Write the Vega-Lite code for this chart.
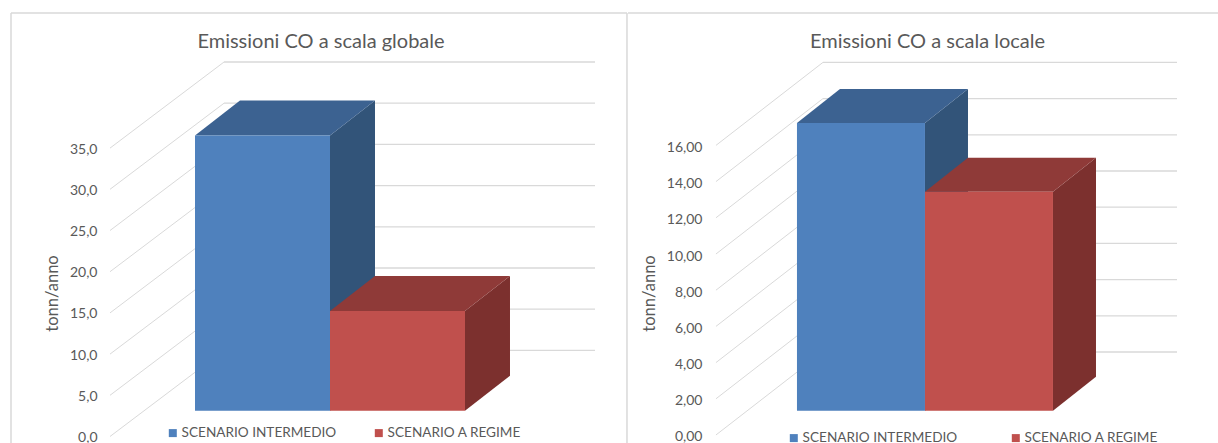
{
  "$schema": "https://vega.github.io/schema/vega-lite/v6.json",
  "padding": {"left": 10, "top": 12, "right": 0, "bottom": 0},
  "autosize": {"type": "pad"},
  "spacing": -3,
  "background": "white",
  "resolve": {"scale": {"color": "independent"}, "legend": {"color": "independent"}},
  "config": {
    "view": {"stroke": null},
    "axisX": {"disable": true},
    "font": "Lato",
    "title": {"font": "Lato", "fontSize": 20, "fontWeight": "normal", "color": "#595959"},
    "legend": {"labelFont": "Lato", "labelFontSize": 13.6, "labelColor": "#595959", "symbolType": "square", "symbolStrokeWidth": 0, "symbolSize": 64, "labelOffset": 2, "orient": "none", "direction": "horizontal", "columns": 2, "title": null, "padding": 0}
  },
  "hconcat": [
    {
      "width": 616,
      "height": 430,
      "title": {"text": "Emissioni CO a scala globale", "offset": -40, "dx": 2},
      "layer": [
        {
          "data": {"values": [{"tick": 0}, {"tick": 5}, {"tick": 10}, {"tick": 15}, {"tick": 20}, {"tick": 25}, {"tick": 30}, {"tick": 35}]},
          "transform": [{"calculate": "datum.tick + 10.45", "as": "back"}],
          "mark": {"type": "rule", "color": "#d9d9d9", "strokeWidth": 1},
          "encoding": {
            "x": {"datum": -0.6296, "scale": {"domain": [-1.363, 3.2], "nice": false, "zero": false}},
            "x2": {"datum": 0.2148},
            "y": {"field": "tick", "type": "quantitative", "scale": {"domain": [-0.789, 51.4], "nice": false, "zero": false},
              "axis": {"values": [0, 5, 10, 15, 20, 25, 30, 35], "grid": false, "domain": false, "ticks": false, "offset": -86, "labelPadding": 0, "labelOffset": 1,
                "labelExpr": "replace(format(datum.value, '.1f'), '.', ',')",
                "labelFont": "Lato", "labelFontSize": 14, "labelColor": "#595959",
                "title": "tonn/anno", "titleFont": "Lato", "titleFontSize": 16.5, "titleFontWeight": "normal", "titleColor": "#595959", "titleX": -37, "titleY": 280}},
            "y2": {"field": "back"}
          }
        },
        {
          "data": {"values": [{"tick": 0}, {"tick": 5}, {"tick": 10}, {"tick": 15}, {"tick": 20}, {"tick": 25}, {"tick": 30}, {"tick": 35}]},
          "transform": [{"calculate": "datum.tick + 10.45", "as": "back"}],
          "mark": {"type": "rule", "color": "#d9d9d9", "strokeWidth": 1.3},
          "encoding": {
            "x": {"datum": 0.2148},
            "x2": {"datum": 2.963},
            "y": {"field": "back", "type": "quantitative"}
          }
        },
        {
          "data": {"values": [{"edge": "border"}]},
          "mark": {"type": "rule", "color": "#d9d9d9", "strokeWidth": 1.5},
          "encoding": {"x": {"datum": -1.363}}
        },
        {
          "data": {"values": [{"edge": "border"}]},
          "mark": {"type": "rule", "color": "#d9d9d9", "strokeWidth": 1.5},
          "encoding": {"y": {"datum": 51.4}}
        },
        {
          "data": {"values": [{"scenario": "SCENARIO INTERMEDIO", "value": 33.4}, {"scenario": "SCENARIO A REGIME", "value": 12.1}]},
          "transform": [
            {"calculate": "datum.scenario === 'SCENARIO INTERMEDIO' ? 0 : 1", "as": "x0"},
            {"calculate": "datum.x0 + 1", "as": "x1"},
            {"calculate": "3.12", "as": "base"},
            {"calculate": "datum.base + datum.value", "as": "top"},
            {"calculate": "[0, 1]", "as": "t"},
            {"flatten": ["t"]},
            {"calculate": "datum.x1 + datum.t * 0.3333", "as": "sideX"},
            {"calculate": "datum.base + datum.t * 4.25", "as": "sideLow"},
            {"calculate": "datum.top + datum.t * 4.25", "as": "sideHigh"}
          ],
          "mark": {"type": "area", "orient": "vertical"},
          "encoding": {
            "x": {"field": "sideX", "type": "quantitative"},
            "y": {"field": "sideLow", "type": "quantitative", "stack": null},
            "y2": {"field": "sideHigh"},
            "detail": {"field": "scenario"},
            "color": {"condition": {"test": "datum.x0 === 0", "value": "#325479"}, "value": "#7c302e"}
          }
        },
        {
          "data": {"values": [{"scenario": "SCENARIO INTERMEDIO", "value": 33.4}, {"scenario": "SCENARIO A REGIME", "value": 12.1}]},
          "transform": [
            {"calculate": "datum.scenario === 'SCENARIO INTERMEDIO' ? 0 : 1", "as": "x0"},
            {"calculate": "3.12 + datum.value", "as": "top"},
            {"calculate": "[0, 1]", "as": "t"},
            {"flatten": ["t"]},
            {"calculate": "datum.x0 + datum.t * 0.3333", "as": "topLeft"},
            {"calculate": "datum.x0 + 1 + datum.t * 0.3333", "as": "topRight"},
            {"calculate": "datum.top + datum.t * 4.25", "as": "topY"}
          ],
          "mark": {"type": "area", "orient": "horizontal"},
          "encoding": {
            "y": {"field": "topY", "type": "quantitative"},
            "x": {"field": "topLeft", "type": "quantitative", "stack": null},
            "x2": {"field": "topRight"},
            "detail": {"field": "scenario"},
            "color": {"condition": {"test": "datum.x0 === 0", "value": "#3c6291"}, "value": "#8f3a38"}
          }
        },
        {
          "data": {"values": [{"scenario": "SCENARIO INTERMEDIO", "value": 33.4}, {"scenario": "SCENARIO A REGIME", "value": 12.1}]},
          "transform": [
            {"calculate": "datum.scenario === 'SCENARIO INTERMEDIO' ? 0 : 1", "as": "x0"},
            {"calculate": "datum.x0 + 1", "as": "x1"},
            {"calculate": "3.12", "as": "base"},
            {"calculate": "datum.base + datum.value", "as": "top"}
          ],
          "mark": {"type": "rect"},
          "encoding": {
            "x": {"field": "x0", "type": "quantitative"},
            "x2": {"field": "x1"},
            "y": {"field": "base", "type": "quantitative"},
            "y2": {"field": "top"},
            "color": {"field": "scenario", "type": "nominal",
              "scale": {"domain": ["SCENARIO INTERMEDIO", "SCENARIO A REGIME"], "range": ["#4f81bd", "#c0504d"]},
              "legend": {"legendX": 155, "legendY": 413, "columnPadding": 35}}
          }
        }
      ]
    },
    {
      "width": 591,
      "height": 430,
      "title": {"text": "Emissioni CO a scala locale", "offset": -40, "dx": 4},
      "layer": [
        {
          "data": {"values": [{"tick": 0}, {"tick": 2}, {"tick": 4}, {"tick": 6}, {"tick": 8}, {"tick": 10}, {"tick": 12}, {"tick": 14}, {"tick": 16}]},
          "transform": [{"calculate": "datum.tick + 4.586", "as": "back"}],
          "mark": {"type": "rule", "color": "#d9d9d9", "strokeWidth": 1},
          "encoding": {
            "x": {"datum": -0.633, "scale": {"domain": [-1.32, 3.297], "nice": false, "zero": false}},
            "x2": {"datum": 0.203},
            "y": {"field": "tick", "type": "quantitative", "scale": {"domain": [-0.442, 23.315], "nice": false, "zero": false},
              "axis": {"values": [0, 2, 4, 6, 8, 10, 12, 14, 16], "grid": false, "domain": false, "ticks": false, "offset": -74, "labelPadding": 0, "labelOffset": 2,
                "labelExpr": "replace(format(datum.value, '.2f'), '.', ',')",
                "labelFont": "Lato", "labelFontSize": 14, "labelColor": "#595959",
                "title": "tonn/anno", "titleFont": "Lato", "titleFontSize": 16.5, "titleFontWeight": "normal", "titleColor": "#595959", "titleX": -45, "titleY": 280}},
            "y2": {"field": "back"}
          }
        },
        {
          "data": {"values": [{"tick": 0}, {"tick": 2}, {"tick": 4}, {"tick": 6}, {"tick": 8}, {"tick": 10}, {"tick": 12}, {"tick": 14}, {"tick": 16}]},
          "transform": [{"calculate": "datum.tick + 4.586", "as": "back"}],
          "mark": {"type": "rule", "color": "#d9d9d9", "strokeWidth": 1.3},
          "encoding": {
            "x": {"datum": 0.203},
            "x2": {"datum": 2.969},
            "y": {"field": "back", "type": "quantitative"}
          }
        },
        {
          "data": {"values": [{"edge": "border"}]},
          "mark": {"type": "rule", "color": "#d9d9d9", "strokeWidth": 1.5},
          "encoding": {"x": {"datum": -1.328}}
        },
        {
          "data": {"values": [{"edge": "border"}]},
          "mark": {"type": "rule", "color": "#d9d9d9", "strokeWidth": 1.5},
          "encoding": {"y": {"datum": 23.315}}
        },
        {
          "data": {"values": [{"scenario": "SCENARIO INTERMEDIO", "value": 15.9}, {"scenario": "SCENARIO A REGIME", "value": 12.1}]},
          "transform": [
            {"calculate": "datum.scenario === 'SCENARIO INTERMEDIO' ? 0 : 1", "as": "x0"},
            {"calculate": "datum.x0 + 1", "as": "x1"},
            {"calculate": "1.335", "as": "base"},
            {"calculate": "datum.base + datum.value", "as": "top"},
            {"calculate": "[0, 1]", "as": "t"},
            {"flatten": ["t"]},
            {"calculate": "datum.x1 + datum.t * 0.336", "as": "sideX"},
            {"calculate": "datum.base + datum.t * 1.878", "as": "sideLow"},
            {"calculate": "datum.top + datum.t * 1.878", "as": "sideHigh"}
          ],
          "mark": {"type": "area", "orient": "vertical"},
          "encoding": {
            "x": {"field": "sideX", "type": "quantitative"},
            "y": {"field": "sideLow", "type": "quantitative", "stack": null},
            "y2": {"field": "sideHigh"},
            "detail": {"field": "scenario"},
            "color": {"condition": {"test": "datum.x0 === 0", "value": "#325479"}, "value": "#7c302e"}
          }
        },
        {
          "data": {"values": [{"scenario": "SCENARIO INTERMEDIO", "value": 15.9}, {"scenario": "SCENARIO A REGIME", "value": 12.1}]},
          "transform": [
            {"calculate": "datum.scenario === 'SCENARIO INTERMEDIO' ? 0 : 1", "as": "x0"},
            {"calculate": "1.335 + datum.value", "as": "top"},
            {"calculate": "[0, 1]", "as": "t"},
            {"flatten": ["t"]},
            {"calculate": "datum.x0 + datum.t * 0.336", "as": "topLeft"},
            {"calculate": "datum.x0 + 1 + datum.t * 0.336", "as": "topRight"},
            {"calculate": "datum.top + datum.t * 1.878", "as": "topY"}
          ],
          "mark": {"type": "area", "orient": "horizontal"},
          "encoding": {
            "y": {"field": "topY", "type": "quantitative"},
            "x": {"field": "topLeft", "type": "quantitative", "stack": null},
            "x2": {"field": "topRight"},
            "detail": {"field": "scenario"},
            "color": {"condition": {"test": "datum.x0 === 0", "value": "#3c6291"}, "value": "#8f3a38"}
          }
        },
        {
          "data": {"values": [{"scenario": "SCENARIO INTERMEDIO", "value": 15.9}, {"scenario": "SCENARIO A REGIME", "value": 12.1}]},
          "transform": [
            {"calculate": "datum.scenario === 'SCENARIO INTERMEDIO' ? 0 : 1", "as": "x0"},
            {"calculate": "datum.x0 + 1", "as": "x1"},
            {"calculate": "1.335", "as": "base"},
            {"calculate": "datum.base + datum.value", "as": "top"}
          ],
          "mark": {"type": "rect"},
          "encoding": {
            "x": {"field": "x0", "type": "quantitative"},
            "x2": {"field": "x1"},
            "y": {"field": "base", "type": "quantitative"},
            "y2": {"field": "top"},
            "color": {"field": "scenario", "type": "nominal",
              "scale": {"domain": ["SCENARIO INTERMEDIO", "SCENARIO A REGIME"], "range": ["#4f81bd", "#c0504d"]},
              "legend": {"legendX": 159, "legendY": 418, "columnPadding": 51}}
          }
        }
      ]
    }
  ]
}
